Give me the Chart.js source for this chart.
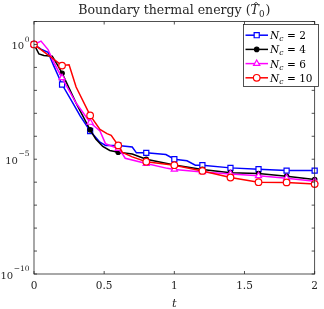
<!DOCTYPE html>
<html>
<head>
<meta charset="utf-8">
<script src="https://cdn.jsdelivr.net/npm/chart.js@4.4.0/dist/chart.umd.min.js"></script>
<style>
  html, body { margin: 0; padding: 0; background: #fff; }
</style>
</head>
<body>
<canvas id="chart" width="324" height="309"></canvas>
<script>
// time samples and values, one pair of arrays per curve
const tN2 = [0, 0.05, 0.1, 0.14, 0.2, 0.27, 0.33, 0.4, 0.47, 0.51, 0.6, 0.7, 0.73, 0.8, 0.94, 1.0, 1.09, 1.15, 1.2, 1.4, 1.6, 1.8, 2.0];
const eN2 = [1, 0.63, 0.46, 0.12, 1.8e-2, 3.3e-3, 7.6e-4, 1.7e-4, 5.5e-5, 4e-5, 4e-5, 3.4e-5, 1.9e-5, 1.9e-5, 1.6e-5, 1e-5, 8.5e-6, 5.5e-6, 5.5e-6, 4.2e-6, 3.7e-6, 3.2e-6, 3.2e-6];

const tN4 = [0, 0.035, 0.07, 0.13, 0.17, 0.2, 0.3, 0.4, 0.44, 0.49, 0.54, 0.6, 0.7, 0.8, 1.0, 1.2, 1.4, 1.6, 1.8, 2.0];
const eN4 = [1, 0.39, 0.33, 0.31, 0.12, 5.6e-2, 2.8e-3, 1.9e-4, 7.6e-5, 3.6e-5, 2.4e-5, 2e-5, 1.7e-5, 1e-5, 5.6e-6, 3.6e-6, 2.6e-6, 2.4e-6, 1.8e-6, 1.3e-6];

const tN6 = [0, 0.05, 0.1, 0.14, 0.2, 0.3, 0.4, 0.47, 0.51, 0.6, 0.63, 0.65, 0.8, 0.95, 1.0, 1.2, 1.4, 1.6, 1.8, 2.0];
const eN6 = [1, 1.4, 0.6, 0.17, 3.5e-2, 2.8e-3, 4e-4, 1.7e-4, 4.7e-5, 2.9e-5, 1.7e-5, 1.1e-5, 6.5e-6, 4e-6, 3.6e-6, 2.8e-6, 2.3e-6, 1.9e-6, 1.5e-6, 1.1e-6];

const tN10 = [0, 0.2, 0.25, 0.3, 0.4, 0.47, 0.52, 0.55, 0.6, 0.63, 0.7, 0.8, 1.0, 1.2, 1.4, 1.6, 1.8, 2.0];
const eN10 = [1, 0.12, 0.13, 1.4e-2, 8.1e-4, 2e-4, 1.3e-4, 1.1e-4, 4e-5, 2e-5, 1.26e-5, 7.8e-6, 5.5e-6, 3.1e-6, 1.6e-6, 1e-6, 9.8e-7, 8.3e-7];

const ncLabels = ["2", "4", "6", "10"];
const xTicks = [0, 0.5, 1, 1.5, 2];
const yLabelExps = [0, -5, -10];
const yDecades = [-10, -9, -8, -7, -6, -5, -4, -3, -2, -1, 0, 1];

const serif = '"DejaVu Serif", "Liberation Serif", serif';
const axisColor = "#262626";

// markers only every 0.2 in t, like the original plot
function markerRadius(r) {
  return (ctx) => {
    const t = ctx.raw ? ctx.raw.x : 0;
    return Math.abs(t * 5 - Math.round(t * 5)) < 1e-6 ? r : 0;
  };
}

function pts(ts, vs) {
  return ts.map((t, i) => ({ x: t, y: vs[i] }));
}

const series = [
  { data: pts(tN2, eN2), color: "#0000ff", style: "rect", r: 3.6, fill: false, order: 4 },
  { data: pts(tN4, eN4), color: "#000000", style: "circle", r: 2.2, fill: true, order: 3 },
  { data: pts(tN6, eN6), color: "#ff00ff", style: "triangle", r: 3.6, fill: false, order: 2 },
  { data: pts(tN10, eN10), color: "#ff0000", style: "circle", r: 3.3, fill: false, order: 1 },
];

function drawMarker(ctx, s, x, y) {
  ctx.save();
  ctx.strokeStyle = s.color;
  ctx.fillStyle = s.fill ? s.color : "#fff";
  ctx.lineWidth = 1.2;
  ctx.beginPath();
  if (s.style === "rect") {
    const h = s.r * Math.SQRT1_2;
    ctx.rect(x - h, y - h, 2 * h, 2 * h);
  } else if (s.style === "triangle") {
    const r = s.r;
    ctx.moveTo(x, y - r);
    ctx.lineTo(x + r * 0.866, y + r * 0.5);
    ctx.lineTo(x - r * 0.866, y + r * 0.5);
    ctx.closePath();
  } else {
    ctx.arc(x, y, s.r, 0, Math.PI * 2);
  }
  ctx.fill();
  ctx.stroke();
  ctx.restore();
}

const decor = {
  id: "decor",
  afterDraw(chart) {
    const ctx = chart.ctx;
    const ca = chart.chartArea;
    const xs = chart.scales.x;
    const ys = chart.scales.y;
    ctx.save();

    // axes box and inward ticks
    ctx.strokeStyle = axisColor;
    ctx.lineWidth = 0.8;
    ctx.strokeRect(ca.left, ca.top, ca.right - ca.left, ca.bottom - ca.top);
    ctx.beginPath();
    xTicks.forEach((v) => {
      const px = xs.getPixelForValue(v);
      ctx.moveTo(px, ca.bottom); ctx.lineTo(px, ca.bottom - 3);
      ctx.moveTo(px, ca.top); ctx.lineTo(px, ca.top + 3);
    });
    yDecades.forEach((e) => {
      const py = ys.getPixelForValue(Math.pow(10, e));
      ctx.moveTo(ca.left, py); ctx.lineTo(ca.left + 3, py);
      ctx.moveTo(ca.right, py); ctx.lineTo(ca.right - 3, py);
    });
    ctx.stroke();

    // y tick labels 10^e
    ctx.fillStyle = axisColor;
    ctx.textBaseline = "alphabetic";
    yLabelExps.forEach((e) => {
      const py = ys.getPixelForValue(Math.pow(10, e));
      const expTxt = e === 0 ? "0" : "\u2212" + Math.abs(e);
      ctx.font = "7.5px " + serif;
      const ew = ctx.measureText(expTxt).width;
      const right = ca.left - 4.5;
      ctx.textAlign = "right";
      ctx.fillText(expTxt, right, py - 2.8);
      ctx.font = "10px " + serif;
      ctx.fillText("10", right - ew - 0.5, py + 4.6);
    });

    // x axis title
    ctx.font = "italic 11.5px " + serif;
    ctx.textAlign = "center";
    ctx.fillText("t", (ca.left + ca.right) / 2, 306.5);

    // title: Boundary thermal energy (T-hat_0), fitted to the original width
    const p1 = "Boundary thermal energy (";
    const fit = (size) => {
      ctx.font = size + "px " + serif;
      const w1 = ctx.measureText(p1).width;
      const wClose = ctx.measureText(")").width;
      ctx.font = "italic " + size + "px " + serif;
      const wT = ctx.measureText("T").width;
      ctx.font = (size * 0.7) + "px " + serif;
      const wSub = ctx.measureText("0").width;
      return { w1, wClose, wT, wSub, total: w1 + wT + wSub + wClose + 1 };
    };
    let size = 12;
    size = size * 192.5 / fit(size).total;
    const m = fit(size);
    let x = (ca.left + ca.right) / 2 - m.total / 2;
    const base = 14.3;
    ctx.textAlign = "left";
    ctx.font = size + "px " + serif;
    ctx.fillText(p1, x, base);
    x += m.w1;
    ctx.font = "italic " + size + "px " + serif;
    ctx.fillText("T", x, base);
    ctx.beginPath();
    ctx.lineWidth = 0.8;
    ctx.moveTo(x + m.wT * 0.38, base - 10);
    ctx.lineTo(x + m.wT * 0.65, base - 12);
    ctx.lineTo(x + m.wT * 0.92, base - 10);
    ctx.stroke();
    x += m.wT;
    ctx.font = (size * 0.7) + "px " + serif;
    ctx.fillText("0", x, base + 2.3);
    x += m.wSub + 1;
    ctx.font = size + "px " + serif;
    ctx.fillText(")", x, base);

    // legend
    const lx = 243.5, ly = 24.5, lw = 75, lh = 62;
    ctx.fillStyle = "#fff";
    ctx.fillRect(lx, ly, lw, lh);
    ctx.strokeStyle = axisColor;
    ctx.lineWidth = 0.8;
    ctx.strokeRect(lx, ly, lw, lh);
    series.forEach((s, i) => {
      const ry = 35.2 + i * 14.2;
      ctx.strokeStyle = s.color;
      ctx.lineWidth = 1.5;
      ctx.beginPath();
      ctx.moveTo(245.5, ry);
      ctx.lineTo(268, ry);
      ctx.stroke();
      drawMarker(ctx, s, 256.7, ry);
      ctx.fillStyle = "#000";
      ctx.textAlign = "left";
      ctx.textBaseline = "alphabetic";
      let tx = 270;
      ctx.font = "italic 10.5px " + serif;
      ctx.fillText("N", tx, ry + 4);
      tx += ctx.measureText("N").width;
      ctx.font = "italic 7.5px " + serif;
      ctx.fillText("c", tx, ry + 6);
      tx += ctx.measureText("c").width;
      ctx.font = "10.5px " + serif;
      ctx.fillText(" = " + ncLabels[i], tx + 0.3, ry + 4);
    });
    ctx.restore();
  },
};

new Chart(document.getElementById("chart"), {
  type: "line",
  data: {
    datasets: series.map((s, i) => ({
      label: "Nc = " + ncLabels[i],
      data: s.data,
      borderColor: s.color,
      backgroundColor: s.fill ? s.color : "#ffffff",
      borderWidth: 1.5,
      pointStyle: s.style,
      pointRadius: markerRadius(s.r),
      pointBorderWidth: 1.2,
      pointBorderColor: s.color,
      pointBackgroundColor: s.fill ? s.color : "#ffffff",
      tension: 0,
      clip: false,
      order: s.order,
    })),
  },
  options: {
    responsive: false,
    animation: false,
    devicePixelRatio: 1,
    layout: { padding: { top: 21.5, right: 4.5, left: 0, bottom: 0 } },
    plugins: { legend: { display: false }, title: { display: false }, tooltip: { enabled: false } },
    scales: {
      x: {
        type: "linear",
        min: 0,
        max: 2,
        afterBuildTicks: (s) => { s.ticks = xTicks.map((v) => ({ value: v })); },
        ticks: {
          color: axisColor,
          font: { family: serif, size: 10.5 },
          padding: 6,
          maxRotation: 0,
          callback: (v) => String(v),
        },
        grid: { display: false, drawTicks: false },
        border: { display: false },
        afterFit: (s) => { s.height = 35; },
      },
      y: {
        type: "logarithmic",
        min: 1e-10,
        max: 10,
        ticks: { display: false },
        grid: { display: false, drawTicks: false },
        border: { display: false },
        afterFit: (s) => { s.width = 34; },
      },
    },
  },
  plugins: [decor],
});
</script>
</body>
</html>
